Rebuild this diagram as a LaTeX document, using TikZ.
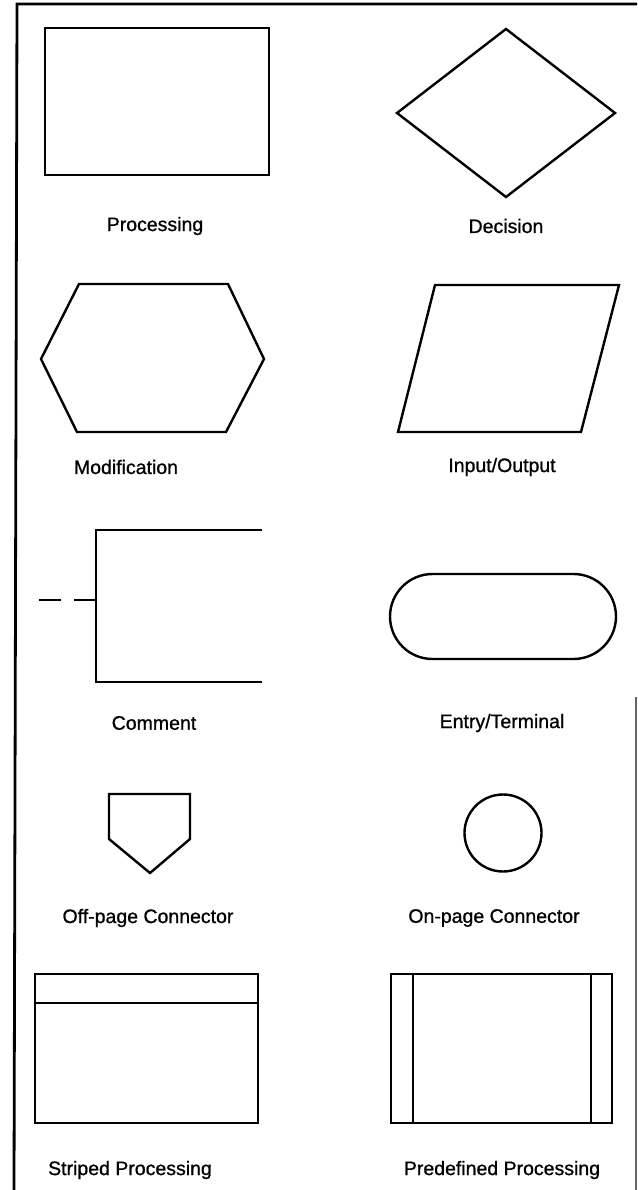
\documentclass[tikz,border=0pt]{standalone}
\usepackage{fontspec}
\setmainfont[FakeBold=0.9]{Liberation Sans}
\begin{document}
\begin{tikzpicture}[x=1pt,y=-1pt,
  shape line/.style={draw=black, line width=2.4pt, line join=miter},
  frame line/.style={draw=black, line width=2.8pt},
  thin frame/.style={draw=black!60, line width=1.3pt},
  caption/.style={font=\fontsize{19.5}{22}\selectfont, text=black, inner sep=0pt}]
\useasboundingbox (0,0) rectangle (637,1190);
% frame
\draw[frame line] (14,1190) -- (17,4) -- (637,4);
\draw[thin frame] (636,697) -- (636,1190);
% Processing
\draw[shape line] (45,28) rectangle (269,175);
\node[caption] (lproc) at (155,226) {Processing};
% Decision
\draw[shape line] (397,113) -- (506,29) -- (615,113) -- (506,197) -- cycle;
\node[caption] (ldec) at (506,226) {Decision};
% Modification
\draw[shape line] (79,284) -- (228,284) -- (264,359) -- (226,432) -- (77,432) -- (41,359) -- cycle;
\node[caption] (lmod) at (126,467) {Modification};
% Input/Output
\draw[shape line] (435,285) -- (619,285) -- (581,432) -- (398,432) -- cycle;
\node[caption] (lio) at (502,467) {Input/Output};
% Comment
\draw[shape line] (262,530) -- (96,530) -- (96,682) -- (262,682);
\draw[shape line] (39,600) -- (61,600);
\draw[shape line] (74,600) -- (96,600);
\node[caption] (lcom) at (154,723) {Comment};
% Entry/Terminal
\draw[shape line, rounded corners=42.5pt] (390,574) rectangle (616,659);
\node[caption] (lterm) at (502,723) {Entry/Terminal};
% Off-page connector
\draw[shape line] (109,794) -- (190,794) -- (190,839) -- (150,873) -- (109,839) -- cycle;
\node[caption] (loff) at (148,918) {Off-page Connector};
% On-page connector
\draw[shape line] (503,833) circle (38.5);
\node[caption] (lon) at (494,918) {On-page Connector};
% Striped processing
\draw[shape line] (35,974) rectangle (258,1123);
\draw[shape line] (35,1003) -- (258,1003);
\node[caption] (lstr) at (130,1170) {Striped Processing};
% Predefined processing
\draw[shape line] (391,974) rectangle (612,1123);
\draw[shape line] (413,974) -- (413,1123);
\draw[shape line] (591,974) -- (591,1123);
\node[caption] (lpre) at (502,1170) {Predefined Processing};
\end{tikzpicture}
\end{document}
